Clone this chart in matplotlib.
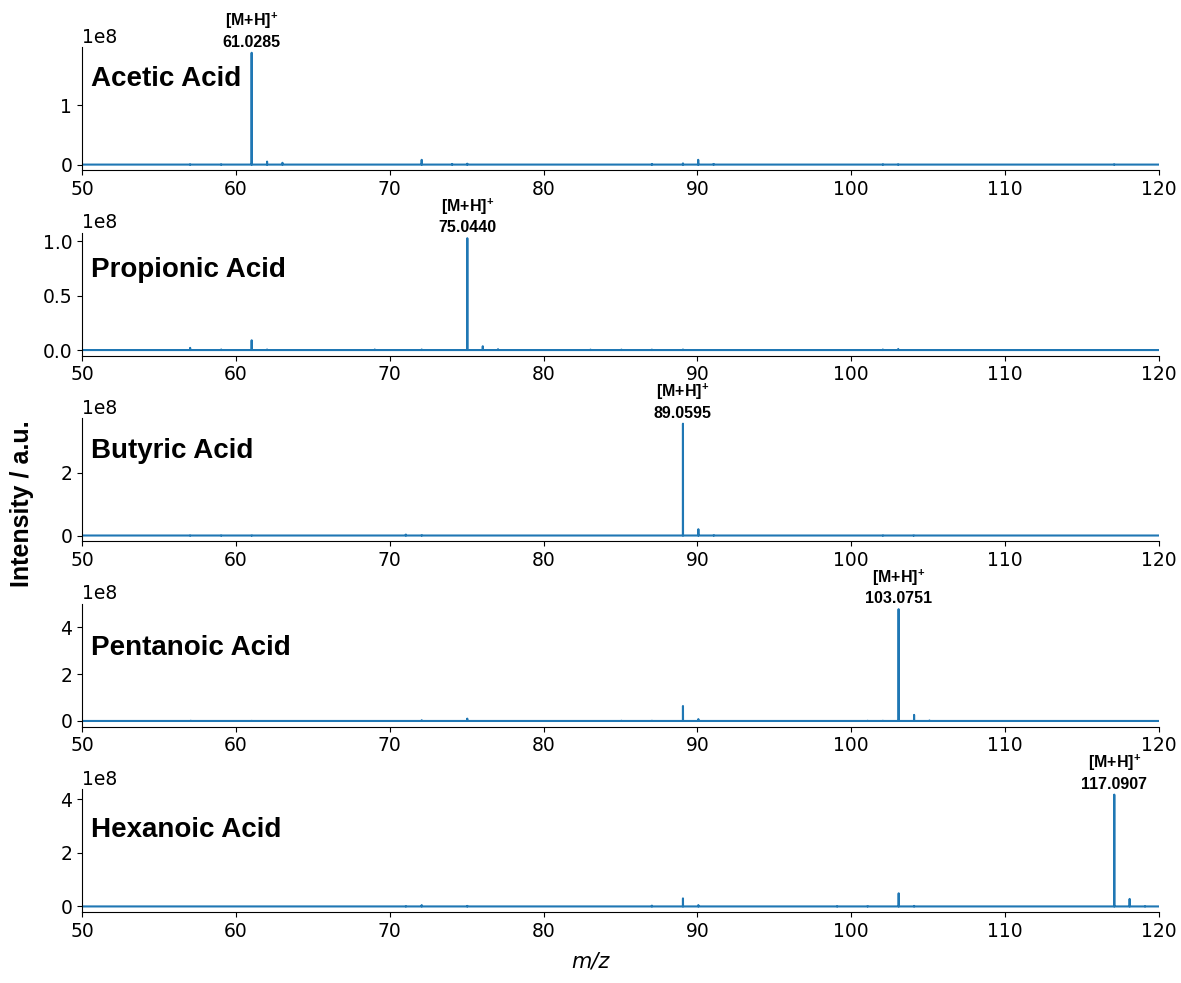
import numpy as np
import matplotlib
matplotlib.use('Agg')
from matplotlib import pyplot as plt

# compound names, [M+H]+ ions and peak lists (m/z, intensity in 1e8)
names = ['Acetic Acid', 'Propionic Acid', 'Butyric Acid', 'Pentanoic Acid', 'Hexanoic Acid']
ion_mz = [61.0285, 75.0440, 89.0595, 103.0751, 117.0907]

acetic_mz = [57.03, 59.05, 61.0285, 62.03, 63.03, 72.08, 74.06, 75.04, 87.04, 89.06, 90.05, 91.05, 102.05, 103.05, 117.09]
acetic_int = [0.005, 0.005, 1.88, 0.05, 0.03, 0.08, 0.01, 0.015, 0.01, 0.02, 0.08, 0.01, 0.005, 0.005, 0.005]

propionic_mz = [57.03, 59.05, 61.03, 62.03, 69.03, 72.08, 75.0440, 76.05, 77.04, 83.05, 85.06, 87.04, 89.06, 102.05, 103.05]
propionic_int = [0.02, 0.005, 0.09, 0.005, 0.005, 0.005, 1.03, 0.035, 0.008, 0.004, 0.004, 0.004, 0.005, 0.005, 0.01]

butyric_mz = [57.03, 59.05, 61.03, 71.05, 72.08, 89.0595, 90.06, 91.06, 102.05, 104.05]
butyric_int = [0.005, 0.005, 0.005, 0.03, 0.01, 3.55, 0.2, 0.01, 0.005, 0.005]

pentanoic_mz = [57.07, 61.03, 72.08, 75.04, 85.06, 87.04, 89.06, 90.06, 101.06, 102.05, 103.0751, 104.08, 105.08]
pentanoic_int = [0.01, 0.005, 0.03, 0.1, 0.01, 0.01, 0.64, 0.08, 0.01, 0.01, 4.78, 0.26, 0.02]

hexanoic_mz = [71.05, 72.08, 75.04, 87.04, 89.06, 90.06, 99.08, 101.06, 103.08, 104.08, 117.0907, 118.09, 119.09]
hexanoic_int = [0.01, 0.05, 0.02, 0.03, 0.3, 0.05, 0.01, 0.01, 0.49, 0.02, 4.17, 0.28, 0.01]

all_mz = [acetic_mz, propionic_mz, butyric_mz, pentanoic_mz, hexanoic_mz]
all_int = [acetic_int, propionic_int, butyric_int, pentanoic_int, hexanoic_int]
label_y = [0.74, 0.70, 0.73, 0.64, 0.67]

plt.rcParams['xtick.labelsize'] = 13.5
plt.rcParams['ytick.labelsize'] = 13.5
plt.rcParams['mathtext.fontset'] = 'custom'
plt.rcParams['mathtext.bf'] = 'Liberation Sans:bold'
plt.rcParams['mathtext.rm'] = 'Liberation Sans:bold'

fig, axs = plt.subplots(5, 1, figsize=(11.81, 9.83), dpi=100)
fig.subplots_adjust(left=0.0694, right=0.9814, top=0.952, bottom=0.0722, hspace=0.508)

for i, ax in enumerate(axs):
    mz = np.array(all_mz[i])
    inten = np.array(all_int[i]) * 1e8
    # stick spectrum on a zero baseline
    xs = [50.0]
    ys = [0.0]
    for m, h in zip(mz, inten):
        xs += [m - 0.004, m, m + 0.004]
        ys += [0.0, h, 0.0]
    xs.append(120.0)
    ys.append(0.0)
    ax.plot(xs, ys, color='tab:blue', lw=1.5)
    ax.set_xlim(50, 120)
    ax.set_xticks(np.arange(50, 121, 10))
    ax.spines['top'].set_visible(False)
    ax.spines['right'].set_visible(False)
    ax.ticklabel_format(axis='y', style='sci', scilimits=(0, 0))
    ax.yaxis.get_offset_text().set_fontsize(13.5)
    ax.text(0.008, label_y[i], names[i], transform=ax.transAxes, fontsize=20,
            fontweight='bold', family='Liberation Sans', va='center', ha='left')
    pk = ion_mz[i]
    ph = inten[np.argmin(np.abs(mz - pk))]
    ax.annotate('[M+H]$^{\\mathbf{+}}$\n%.4f' % pk, xy=(pk, ph), xytext=(0, 2),
                textcoords='offset points', ha='center', va='bottom',
                fontsize=11.5, fontweight='bold', family='Liberation Sans',
                linespacing=1.3, annotation_clip=False)

fig.text(0.0186, 0.488, 'Intensity / a.u.', rotation=90, fontsize=18, fontweight='bold',
         family='Liberation Sans', ha='center', va='center')
fig.text(0.5, 0.012, 'm/z', fontsize=15, style='italic', ha='center', va='bottom')

fig.savefig('out.png', dpi=100)
